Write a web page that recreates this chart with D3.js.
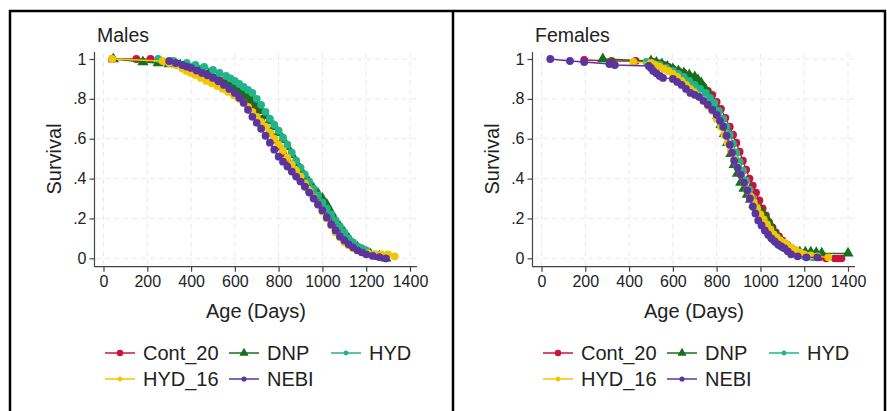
<!DOCTYPE html>
<html>
<head>
<meta charset="utf-8">
<script src="https://cdn.jsdelivr.net/npm/d3@7"></script>
<style>
	body { margin: 0; background: #fff; }
	text { font-family: "Liberation Sans", Arial, sans-serif; fill: #222; }
</style>
</head>
<body>
<div id="container"></div>
<script>
// Chart size
const width = 887;
const height = 411;

// Groups and tick labels
const groups = ["Cont_20", "DNP", "HYD", "HYD_16", "NEBI"];
const colors = ["#c8143c", "#14701a", "#22b38b", "#f2c600", "#5a35a0"];
const xTicks = [0, 200, 400, 600, 800, 1000, 1200, 1400];
const yTicks = [0, 0.2, 0.4, 0.6, 0.8, 1];
const yTickLabels = ["0", ".2", ".4", ".6", ".8", "1"];

// Males survival, [age in days, survival]
const malesCont20 = [[40,1],[150,1],[215,1],[300,0.985],[320,0.98],[340,0.975],[360,0.97],[380,0.963],[400,0.955],[420,0.947],[440,0.939],[460,0.93],[480,0.92],[500,0.91],[520,0.90],[540,0.89],[560,0.878],[580,0.866],[600,0.855],[620,0.838],[640,0.82],[660,0.796],[680,0.77],[700,0.735],[720,0.70],[740,0.665],[760,0.63],[780,0.595],[800,0.56],[820,0.525],[840,0.49],[860,0.455],[880,0.42],[900,0.39],[920,0.36],[940,0.335],[960,0.31],[980,0.285],[1000,0.26],[1020,0.23],[1040,0.20],[1060,0.17],[1080,0.14],[1100,0.115],[1120,0.09],[1140,0.07],[1160,0.05],[1180,0.04],[1200,0.03],[1250,0.01],[1290,0]];
const malesDNP = [[45,1],[180,0.985],[250,0.98],[300,0.975],[350,0.97],[400,0.95],[440,0.94],[480,0.925],[520,0.905],[560,0.885],[580,0.873],[600,0.86],[620,0.845],[640,0.83],[660,0.81],[680,0.79],[700,0.765],[720,0.74],[740,0.715],[760,0.69],[780,0.66],[800,0.63],[820,0.595],[840,0.56],[860,0.52],[880,0.48],[900,0.445],[920,0.41],[940,0.38],[960,0.35],[980,0.325],[1000,0.30],[1020,0.27],[1040,0.23],[1060,0.19],[1080,0.16],[1100,0.13],[1120,0.10],[1140,0.07],[1160,0.055],[1180,0.04],[1200,0.03],[1220,0.02],[1260,0.01],[1290,0]];
const malesHYD = [[250,1],[320,0.99],[380,0.98],[420,0.97],[460,0.96],[500,0.945],[530,0.93],[560,0.915],[580,0.903],[600,0.89],[620,0.875],[640,0.86],[660,0.845],[680,0.83],[700,0.80],[720,0.77],[740,0.735],[760,0.70],[780,0.67],[800,0.64],[820,0.605],[840,0.57],[860,0.53],[880,0.49],[900,0.455],[920,0.42],[940,0.385],[960,0.35],[980,0.315],[1000,0.28],[1020,0.25],[1040,0.22],[1060,0.19],[1080,0.16],[1100,0.13],[1120,0.10],[1140,0.08],[1160,0.06],[1180,0.05],[1200,0.04],[1240,0.02],[1280,0.01]];
const malesHYD16 = [[40,1],[270,0.99],[300,0.98],[330,0.97],[360,0.952],[380,0.94],[400,0.93],[420,0.92],[445,0.905],[470,0.89],[495,0.878],[520,0.865],[545,0.85],[570,0.835],[595,0.818],[620,0.80],[640,0.78],[660,0.76],[680,0.735],[700,0.71],[720,0.685],[740,0.66],[760,0.63],[780,0.60],[800,0.57],[820,0.54],[840,0.505],[860,0.47],[880,0.44],[900,0.41],[920,0.375],[940,0.34],[960,0.305],[980,0.27],[1000,0.235],[1020,0.20],[1040,0.165],[1060,0.13],[1080,0.105],[1100,0.08],[1120,0.065],[1140,0.05],[1160,0.04],[1180,0.03],[1210,0.025],[1240,0.02],[1270,0.02],[1300,0.02],[1330,0.01]];
const malesNEBI = [[300,0.99],[330,0.98],[360,0.97],[380,0.962],[400,0.955],[425,0.942],[450,0.93],[475,0.918],[500,0.905],[525,0.888],[550,0.87],[575,0.85],[600,0.83],[620,0.805],[640,0.78],[660,0.745],[680,0.71],[700,0.68],[720,0.65],[740,0.615],[760,0.58],[780,0.545],[800,0.51],[820,0.485],[840,0.46],[860,0.435],[880,0.41],[900,0.385],[920,0.36],[940,0.33],[960,0.30],[980,0.27],[1000,0.24],[1020,0.205],[1040,0.17],[1060,0.14],[1080,0.11],[1100,0.09],[1120,0.07],[1140,0.055],[1160,0.04],[1180,0.03],[1200,0.02],[1230,0.012],[1260,0.006],[1290,0]];

// Females survival, [age in days, survival]
const femalesCont20 = [[195,0.995],[320,0.99],[430,0.99],[510,0.985],[540,0.978],[560,0.97],[580,0.96],[600,0.95],[625,0.94],[650,0.93],[675,0.915],[700,0.90],[720,0.88],[740,0.86],[760,0.84],[780,0.82],[800,0.785],[820,0.75],[840,0.705],[860,0.66],[875,0.62],[890,0.58],[905,0.535],[920,0.49],[935,0.445],[950,0.40],[965,0.365],[980,0.33],[995,0.29],[1010,0.25],[1025,0.215],[1040,0.18],[1055,0.155],[1070,0.13],[1085,0.11],[1100,0.09],[1120,0.07],[1140,0.05],[1160,0.04],[1180,0.03],[1200,0.02],[1230,0.01],[1270,0.005],[1300,0],[1340,0],[1355,0],[1370,0]];
const femalesDNP = [[280,1],[500,0.99],[525,0.983],[550,0.975],[575,0.963],[600,0.95],[625,0.94],[650,0.93],[675,0.92],[700,0.91],[715,0.895],[730,0.88],[745,0.855],[760,0.83],[775,0.795],[790,0.76],[805,0.715],[820,0.67],[835,0.625],[850,0.58],[865,0.525],[880,0.47],[895,0.425],[910,0.38],[925,0.35],[940,0.32],[955,0.295],[970,0.27],[985,0.255],[1000,0.24],[1015,0.22],[1030,0.20],[1045,0.17],[1060,0.14],[1075,0.115],[1090,0.09],[1105,0.075],[1120,0.06],[1135,0.05],[1150,0.04],[1180,0.03],[1205,0.03],[1230,0.03],[1255,0.028],[1280,0.025],[1400,0.025]];
const femalesHYD = [[480,0.985],[510,0.978],[540,0.97],[570,0.955],[600,0.94],[625,0.925],[650,0.91],[675,0.89],[700,0.87],[725,0.85],[750,0.83],[770,0.805],[790,0.78],[810,0.74],[830,0.70],[845,0.66],[860,0.62],[875,0.575],[890,0.53],[905,0.485],[920,0.44],[935,0.39],[950,0.345],[965,0.30],[980,0.26],[995,0.21],[1010,0.175],[1025,0.14],[1040,0.115],[1055,0.095],[1070,0.08],[1085,0.065],[1100,0.055],[1120,0.045],[1150,0.03],[1180,0.02],[1200,0.01],[1240,0.005]];
const femalesHYD16 = [[420,0.985],[500,0.98],[520,0.97],[540,0.96],[560,0.95],[580,0.94],[600,0.925],[620,0.91],[640,0.89],[660,0.87],[680,0.85],[700,0.83],[720,0.81],[740,0.79],[760,0.765],[780,0.74],[800,0.70],[820,0.66],[835,0.62],[850,0.58],[865,0.54],[880,0.50],[895,0.46],[910,0.42],[925,0.38],[940,0.34],[955,0.31],[970,0.28],[985,0.25],[1000,0.22],[1015,0.195],[1030,0.17],[1045,0.145],[1060,0.12],[1075,0.105],[1090,0.09],[1105,0.08],[1120,0.07],[1140,0.055],[1160,0.04],[1180,0.03],[1200,0.02],[1230,0.015],[1260,0.01],[1310,0.005]];
const femalesNEBI = [[40,1],[130,0.99],[195,0.985],[310,0.975],[335,0.97],[490,0.965],[500,0.955],[510,0.94],[525,0.928],[540,0.915],[555,0.905],[600,0.90],[620,0.885],[640,0.87],[660,0.85],[680,0.83],[700,0.82],[720,0.81],[740,0.79],[760,0.77],[780,0.745],[800,0.72],[815,0.69],[830,0.66],[845,0.615],[860,0.57],[870,0.53],[880,0.49],[895,0.455],[910,0.42],[925,0.38],[940,0.34],[952,0.30],[965,0.26],[977,0.225],[990,0.19],[1005,0.165],[1020,0.14],[1035,0.12],[1050,0.10],[1065,0.085],[1080,0.07],[1095,0.06],[1110,0.05],[1125,0.035],[1140,0.02],[1170,0.01],[1210,0.005],[1260,0.005]];

const panels = [
	{title: "Males", dx: 0, series: [malesCont20, malesDNP, malesHYD, malesHYD16, malesNEBI]},
	{title: "Females", dx: 438, series: [femalesCont20, femalesDNP, femalesHYD, femalesHYD16, femalesNEBI]}
];

const svg = d3.select("#container").append("svg")
	.attr("width", width)
	.attr("height", height)
	.style("display", "block");

svg.append("rect").attr("width", width).attr("height", height).attr("fill", "#fff");

// Outer frame and divider
const frame = [[[9, 11], [886, 11]], [[10, 10], [10, 411]], [[453, 10], [453, 411]], [[885, 10], [885, 411]]];
svg.selectAll(".frame")
	.data(frame)
	.join("path")
		.attr("class", "frame")
		.attr("stroke", "#000")
		.attr("stroke-width", 2.5)
		.attr("d", d => d3.line()(d));

const drawMarker = function(sel, i, r) {
	if (i === 1) {
		sel.append("path")
			.attr("d", d3.symbol(d3.symbolTriangle, r * r * 3.6)())
			.attr("fill", colors[i]);
	} else {
		sel.append("circle")
			.attr("r", r)
			.attr("fill", colors[i]);
	}
}

panels.forEach(p => {
	const g = svg.append("g").attr("transform", `translate(${p.dx},0)`);

	const x = d3.scaleLinear().domain([0, 1400]).range([103.5, 410]);
	const y = d3.scaleLinear().domain([0, 1]).range([258.3, 59]);

	// Grid
	g.selectAll(".gridx")
		.data(xTicks)
		.join("line")
			.attr("x1", d => x(d)).attr("x2", d => x(d))
			.attr("y1", 53).attr("y2", 266)
			.attr("stroke", "#e9e9e9")
			.attr("stroke-dasharray", "5,4");
	g.selectAll(".gridy")
		.data(yTicks)
		.join("line")
			.attr("x1", 96).attr("x2", 417)
			.attr("y1", d => y(d)).attr("y2", d => y(d))
			.attr("stroke", "#e9e9e9")
			.attr("stroke-dasharray", "5,4");

	// Axes
	const xAxis = g.append("g")
		.attr("transform", "translate(0,266.7)")
		.call(d3.axisBottom(x).tickValues(xTicks).tickFormat(d3.format("d")).tickSize(5).tickPadding(4).tickSizeOuter(0));
	xAxis.select(".domain").attr("d", "M94.5,0H417");
	const yAxis = g.append("g")
		.attr("transform", "translate(94.5,0)")
		.call(d3.axisLeft(y).tickValues(yTicks).tickFormat((d, i) => yTickLabels[i]).tickSize(5).tickPadding(3).tickSizeOuter(0));
	yAxis.select(".domain").attr("d", "M0,52V267");
	[xAxis, yAxis].forEach(a => {
		a.selectAll(".domain, line").attr("stroke", "#444").attr("stroke-width", 1.2);
		a.selectAll("text").attr("font-size", 16).attr("fill", "#222")
			.style("font-family", '"Liberation Sans", Arial, sans-serif');
	});

	// Titles
	g.append("text").attr("x", 97).attr("y", 42).attr("font-size", 19.5).text(p.title);
	g.append("text").attr("x", 256).attr("y", 318).attr("font-size", 20)
		.attr("text-anchor", "middle").text("Age (Days)");
	g.append("text").attr("transform", "translate(61,159) rotate(-90)").attr("font-size", 20)
		.attr("text-anchor", "middle").text("Survival");

	// Curves
	p.series.forEach((s, i) => {
		g.append("path")
			.attr("fill", "none")
			.attr("stroke", colors[i])
			.attr("stroke-width", 1.3)
			.attr("d", d3.line().x(d => x(d[0])).y(d => y(d[1]))(s));
		g.selectAll(`.m${i}`)
			.data(s)
			.join("g")
				.attr("class", `m${i}`)
				.attr("transform", d => `translate(${x(d[0])},${y(d[1])})`)
				.each(function() { drawMarker(d3.select(this), i, 3.9); });
	});

	// Legend
	const legendPos = [[105, 353], [229, 353], [331, 353], [105, 379], [229, 379]];
	const legendR = [3.2, 3.2, 2.4, 2.4, 2.6];
	groups.forEach((name, i) => {
		const lg = g.append("g").attr("transform", `translate(${legendPos[i][0]},${legendPos[i][1]})`);
		lg.append("line").attr("x1", 0).attr("x2", 30).attr("stroke", colors[i]).attr("stroke-width", 1.5);
		const mk = lg.append("g").attr("transform", "translate(15,0)");
		drawMarker(mk, i, legendR[i]);
		lg.append("text").attr("x", 38).attr("y", 7).attr("font-size", 20).text(name);
	});
});
</script>
</body>
</html>
